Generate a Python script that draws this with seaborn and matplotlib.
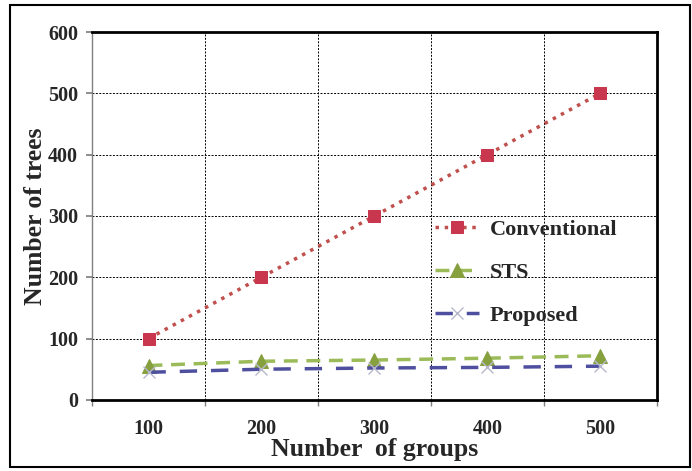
import pandas as pd
import seaborn as sns
import matplotlib.pyplot as plt
from matplotlib.patches import Rectangle

# chart data
groups = ["100", "200", "300", "400", "500"]
conventional = [100, 200, 300, 400, 500]
sts = [56, 63, 65, 68, 72]
proposed = [45, 50, 52, 53, 55]

sns.set_theme(style="white")
plt.rcParams["font.family"] = ["Liberation Serif", "DejaVu Serif"]
plt.rcParams["font.weight"] = "bold"

fig = plt.figure(figsize=(6.92, 4.71), dpi=100)
ax = fig.add_axes([0.133, 0.151, 0.816, 0.781])

# outer frame around the whole picture
fig.patches.append(Rectangle((10 / 692, 4 / 471), 680 / 692, 462 / 471,
                             transform=fig.transFigure, fill=False,
                             edgecolor="black", linewidth=1.5))

sns.lineplot(x=groups, y=conventional, ax=ax, color="#c0504d", linestyle=":",
             linewidth=2.5, marker="s", markersize=9, markerfacecolor="#c8374d",
             markeredgecolor="#c8374d", label="Conventional")
sns.lineplot(x=groups, y=sts, ax=ax, color="#9bbb59", linestyle=(0, (4, 2.5)),
             linewidth=2.5, marker="^", markersize=10, markerfacecolor="#86a03e",
             markeredgecolor="#86a03e", label="STS")
sns.lineplot(x=groups, y=proposed, ax=ax, color="#4f4fa0", linestyle=(0, (5, 4)),
             linewidth=2.5, marker="x", markersize=8, markeredgecolor="#b8b8cc",
             markeredgewidth=1, label="Proposed")

ax.set_xlim(-0.5, 4.5)
ax.set_ylim(0, 600)
ax.set_yticks(range(0, 601, 100))
ax.set_xticks(range(5))
ax.set_xticklabels(groups)
ax.set_xticks([i - 0.5 for i in range(6)], minor=True)
ax.tick_params(axis="x", which="major", length=0, pad=14, labelsize=14.5)
ax.tick_params(axis="x", which="minor", length=4, direction="out", color="gray", bottom=True)
ax.tick_params(axis="y", length=4, direction="out", color="gray", left=True, labelsize=14.5, pad=6)

ax.grid(False)
ax.grid(axis="x", which="minor", color="black", linestyle=(0, (2, 1.5)), linewidth=0.7)
ax.grid(axis="y", which="major", color="black", linestyle=(0, (2, 1.5)), linewidth=0.7)

for side in ["top", "right", "bottom"]:
    ax.spines[side].set_color("black")
    ax.spines[side].set_linewidth(2)
ax.spines["left"].set_color("gray")
ax.spines["left"].set_linewidth(1)

ax.set_xlabel("Number  of groups", fontsize=18.5, fontweight="bold", labelpad=-1)
ax.set_ylabel("Number of trees", fontsize=18.5, fontweight="bold", labelpad=0.5)

ax.legend(loc="upper left", bbox_to_anchor=(0.572, 0.545), frameon=False,
          prop={"size": 16, "weight": "bold"}, labelspacing=1.0,
          handlelength=2.0, handletextpad=0.45)

fig.savefig("out.png", dpi=100)
